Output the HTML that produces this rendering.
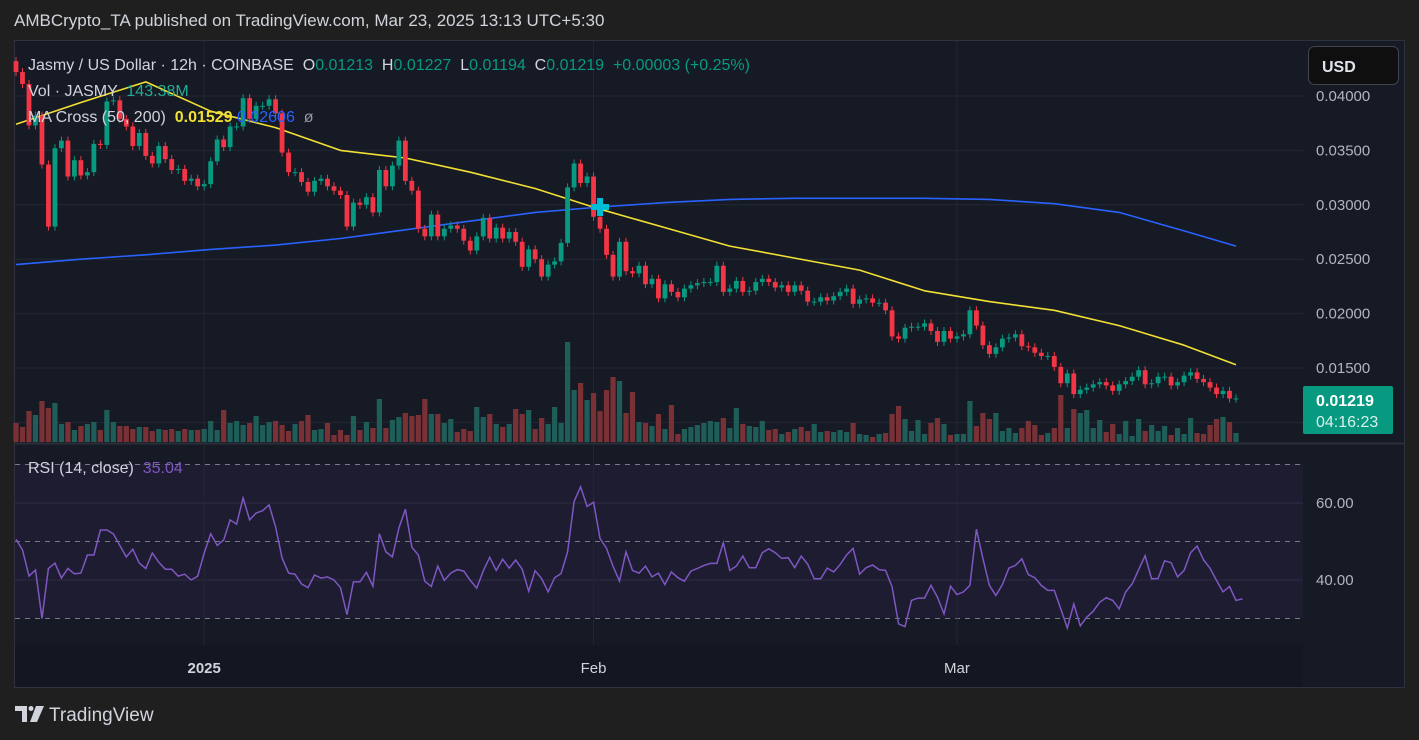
<!DOCTYPE html>
<html><head><meta charset="utf-8">
<style>
body{margin:0;background:#1f1f1f;width:1419px;height:740px;overflow:hidden;font-family:"Liberation Sans",sans-serif;}
#hdr{position:absolute;left:14px;top:11px;color:#d1d4dc;font-size:17px;}
svg{position:absolute;left:0;top:0;}
</style></head><body>
<div id="hdr">AMBCrypto_TA published on TradingView.com, Mar 23, 2025 13:13 UTC+5:30</div>
<svg id="c" width="1419" height="740" xmlns="http://www.w3.org/2000/svg" font-family="Liberation Sans, sans-serif"></svg>
<script>
const firstOpen = 0.0432;
const closes = [0.0422,0.0411,0.0373,0.0382,0.0337,0.0280,0.0352,0.0359,0.0326,0.0341,0.0327,0.0330,0.0356,0.0355,0.0395,0.0396,0.0379,0.0372,0.0354,0.0366,0.0345,0.0338,0.0354,0.0342,0.0332,0.0333,0.0322,0.0324,0.0317,0.0319,0.0340,0.0360,0.0353,0.0372,0.0372,0.0398,0.0379,0.0391,0.0391,0.0397,0.0384,
0.0348,0.0330,0.0330,0.0321,0.0312,0.0322,0.0324,0.0317,0.0313,0.0309,0.0280,0.0302,0.0300,0.0307,0.0293,0.0332,0.0317,0.0336,0.0359,0.0322,0.0313,
0.0278,0.0271,0.0291,0.0271,0.0278,0.0281,0.0278,0.0267,0.0258,0.0271,0.0288,0.0269,0.0279,0.0269,0.0275,0.0266,0.0243,0.0259,0.0250,
0.0234,0.0245,0.0248,0.0265,0.0316,0.0338,0.0320,0.0326,0.0289,0.0278,0.0254,0.0234,0.0266,0.0239,0.0237,0.0244,0.0227,0.0232,0.0214,0.0227,
0.0220,0.0215,0.0223,0.0226,0.0228,0.0229,0.0229,0.0244,0.0220,0.0223,0.0230,0.0220,0.0221,0.0229,0.0232,0.0229,0.0224,0.0226,0.0220,0.0226,
0.0221,0.0211,0.0211,0.0215,0.0212,0.0216,0.0220,
0.0223,0.0209,0.0213,0.0214,0.0210,0.0210,0.0203,0.0179,0.0177,0.0187,0.0188,0.0188,0.0191,0.0184,0.0174,0.0184,0.0177,0.0179,0.0181,0.0203,
0.0189,0.0171,0.0163,0.0169,0.0177,0.0178,0.0181,0.0170,0.0169,0.0164,0.0161,0.0161,0.0151,0.0136,0.0145,0.0126,0.0130,0.0132,0.0135,0.0137,
0.0134,0.0129,0.0135,0.0138,0.0142,0.0148,0.0135,0.0136,0.0142,0.0142,0.0134,0.0137,0.0143,0.0146,0.0140,0.0137,0.0132,0.0126,0.0129,0.0122,0.0122];
const volumes = [19,15,31,27,41,34,39,18,20,12,16,18,20,12,32,20,16,16,13,15,15,11,13,12,13,11,13,12,12,13,21,12,32,19,21,17,19,26,17,20,21,17,11,18,21,27,12,13,19,7,12,7,26,12,20,14,43,14,22,25,29,26,
27,43,28,28,19,23,10,13,11,35,25,28,18,15,18,33,28,32,13,24,18,35,19,100,52,59,42,49,31,52,65,61,29,50,20,19,16,28,13,37,8,13,15,17,19,21,20,24,14,34,18,16,15,21,12,13,8,10,13,15,11,18,10,11,10,12,
10,19,8,7,5,8,9,28,36,23,11,22,8,19,24,18,7,8,8,41,16,29,23,29,11,14,9,14,21,17,7,9,14,47,14,33,29,32,14,22,10,18,8,21,6,23,11,17,11,16,7,14,8,24,9,8,17,23,25,20,9];
const rsi = [50.6,47.8,41,42.6,30,43,44.4,40.5,43,41.6,41.8,46.5,46.5,53,53,52,49,46,48,44.4,43,47,44.6,42.8,42.8,41,41.5,40,41,47,52,49,50.4,55.6,54.5,61.3,55.6,57.4,58,59.5,53.8,45.7,41.8,41.5,39,38,41.3,40.5,40.8,40,38,31,39.5,39.5,42,38.4,52,47.3,46,53.5,58.4,
48.5,46.5,39.7,38.3,43.6,39.9,41.8,42.7,42.3,39.9,37.9,42.3,45.9,42.5,45.4,43.1,45.2,42.8,37.1,42.4,40.4,36.9,40.6,41.7,47.3,60.4,64.2,59.1,60.2,50.8,48.2,43.6,39.7,47.3,42.5,41.8,43.6,40.8,41.8,38.8,42.1,40.6,39.7,42.3,43,43.8,44.3,44.3,49.7,42.5,43.6,46.2,43.2,43.2,47.1,48.1,47.1,45.6,45.8,43.2,46.2,44.1,40.3,40.3,43.1,42.1,44,
46.5,48.2,41.5,43.2,43.9,42.7,42.5,38.2,28.6,27.9,34.7,35.3,35.3,38.6,35.5,31.2,38.4,36.2,36.9,38.6,53.2,45.6,38.6,36,38.8,43.1,43.8,45.5,41.4,40.6,38.6,37.3,37.3,32.5,27.5,33.8,28.1,30.3,31.9,34.2,35.4,34.7,32.5,36.9,39,42.7,46.3,40.3,40.4,45,44.5,40.8,42.5,47.1,48.8,45.2,43.1,39.9,36.9,38.3,34.7,35.1];
const maEvery = 10;
const ma50 = [0.0374,0.0394,0.0413,0.0386,0.0371,0.0350,0.0343,0.0330,0.0315,0.0296,0.0279,0.0262,0.0251,0.0240,0.0221,0.0211,0.0203,0.0189,0.0171,0.0153];
const ma200 = [0.0245,0.0250,0.0254,0.0259,0.0263,0.0269,0.0277,0.0285,0.0293,0.0298,0.0302,0.0305,0.0306,0.0306,0.0306,0.0305,0.0301,0.0293,0.0276,0.0262];
const priceTicks = [0.04,0.035,0.03,0.025,0.02,0.015];
const rsiTicks = [60,40];
const monthLabels = ["2025","Feb","Mar"];
const monthIdx = [29,89,145];
const crossIdx = 90;

const S = document.getElementById('c');
const NS = 'http://www.w3.org/2000/svg';
function mk(tag, attrs, parent){const e=document.createElementNS(NS,tag);for(const k in attrs)e.setAttribute(k,attrs[k]);(parent||S).appendChild(e);return e;}
const n = closes.length;
const X0 = 16, X1 = 1236;
function xs(i){return X0 + i*(X1-X0)/(n-1);}
function yp(v){return 96 + (0.04 - v)/0.005*54.4;}
function yv(v){return 442 - v*1.0;}
function yr(v){return 503 + (60 - v)*3.85;}

let e;
e=mk('rect',{x:14.5,y:40.5,width:1390,height:647,fill:'#161a25',stroke:'#2f3240'});

e=mk('rect',{x:15,y:645,width:1288,height:42,fill:'#131722'});

e=mk('rect',{x:1303,y:41,width:101,height:646,fill:'#161a25'});

mk('line',{x1:15,y1:443.5,x2:1404,y2:443.5,stroke:'#2a2e39','stroke-width':2});
e=mk('rect',{x:15,y:464,width:1288,height:154,fill:'#1f1d33',opacity:0.9});

priceTicks.forEach(t=>{mk('line',{x1:15,y1:yp(t),x2:1303,y2:yp(t),stroke:'#232733'});
 e=mk('text',{x:1316,y:yp(t)+5,fill:'#b2b5be','font-size':15});e.textContent=t.toFixed(5);
 });
mk('line',{x1:15,y1:yp(0.01),x2:1303,y2:yp(0.01),stroke:'#232733'});
rsiTicks.forEach(t=>{mk('line',{x1:15,y1:yr(t),x2:1303,y2:yr(t),stroke:'#2d2b45'});
 e=mk('text',{x:1316,y:yr(t)+5,fill:'#b2b5be','font-size':15});e.textContent=t.toFixed(2);
 });
[70,50,30].forEach(t=>mk('line',{x1:15,y1:yr(t),x2:1303,y2:yr(t),stroke:'#787b86','stroke-dasharray':'5,5'}));
monthIdx.forEach((m,k)=>{mk('line',{x1:xs(m),y1:41,x2:xs(m),y2:645,stroke:'#232733'});
 e=mk('text',{x:xs(m),y:673,fill:'#d1d4dc','font-size':15,'text-anchor':'middle','font-weight':k==0?'bold':'normal'});e.textContent=monthLabels[k];
 });

const gv = mk('g',{});

for(let i=0;i<n && i<volumes.length;i++){
 const o = i==0?firstOpen:closes[i-1];
 const up = closes[i]>=o;
 e=mk('rect',{x:xs(i)-2.6,y:yv(volumes[i]),width:5.2,height:442-yv(volumes[i]),fill:up?'#1f5d59':'#7a3136'},gv);
 
}
function maPath(arr,color,name){
 let d='';arr.forEach((v,k)=>{const i=Math.min(k*maEvery,n-1);d+=(k?'L':'M')+xs(i).toFixed(1)+' '+yp(v).toFixed(1);});
 const p=mk('path',{d:d,fill:'none',stroke:color,'stroke-width':1.6,'stroke-linejoin':'round'});
 
}
maPath(ma200,'#2962ff','ma200-line');
maPath(ma50,'#f2e034','ma50-line');
const gc = mk('g',{});

for(let i=0;i<n;i++){
 const o = i==0?firstOpen:closes[i-1], c=closes[i];
 const up=c>=o, col=up?'#089981':'#f23645';
 const top=yp(Math.max(o,c)), bot=yp(Math.min(o,c));
 mk('line',{x1:xs(i),y1:top-4,x2:xs(i),y2:bot+4,stroke:col,'stroke-width':1},gc);
 e=mk('rect',{x:xs(i)-2.4,y:top,width:4.8,height:Math.max(1,bot-top),fill:col},gc);
 
}
const cx=xs(crossIdx), cy=yp(ma200[9]);
e=mk('path',{d:`M${cx-9} ${cy}H${cx+9}M${cx} ${cy-9}V${cy+9}`,stroke:'#00bcd4','stroke-width':6});

let d='';rsi.forEach((v,i)=>{d+=(i?'L':'M')+xs(i).toFixed(1)+' '+yr(v).toFixed(1);});
e=mk('path',{d:d,fill:'none',stroke:'#7e57c2','stroke-width':1.5});


function txt(x,y,s,col,size,name,weight){const t=mk('text',{x:x,y:y,fill:col,'font-size':size||16,'font-weight':weight||'normal'});t.textContent=s;return t;}
const L1 = mk('text',{x:28,y:70,'font-size':16,fill:'#d1d4dc'});

L1.setAttribute('style','white-space:pre');
[['Jasmy / US Dollar · 12h · COINBASE  ','#d1d4dc'],['O','#d1d4dc'],['0.01213  ','#089981'],['H','#d1d4dc'],['0.01227  ','#089981'],['L','#d1d4dc'],['0.01194  ','#089981'],['C','#d1d4dc'],['0.01219  +0.00003 (+0.25%)','#089981']].forEach(p=>{const t=mk('tspan',{fill:p[1]},L1);t.textContent=p[0];});
const L2 = mk('text',{x:28,y:96,'font-size':16,fill:'#d1d4dc'});

L2.setAttribute('style','white-space:pre');
mk('tspan',{},L2).textContent='Vol · JASMY  ';mk('tspan',{fill:'#22ab94'},L2).textContent='143.38M';
const L3 = mk('text',{x:28,y:122,'font-size':16,fill:'#d1d4dc'});

L3.setAttribute('style','white-space:pre');
mk('tspan',{},L3).textContent='MA Cross (50, 200)  ';mk('tspan',{fill:'#f2e034','font-weight':'bold'},L3).textContent='0.01529 ';mk('tspan',{fill:'#2962ff'},L3).textContent='0.02606  ';mk('tspan',{fill:'#9598a1'},L3).textContent='ø';
const L4 = mk('text',{x:28,y:473,'font-size':16,fill:'#d1d4dc'});

L4.setAttribute('style','white-space:pre');
mk('tspan',{},L4).textContent='RSI (14, close)  ';mk('tspan',{fill:'#7e57c2'},L4).textContent='35.04';

e=mk('rect',{x:1308.5,y:46.5,width:90,height:38,rx:6,fill:'#0f0f0f',stroke:'#434651'});

txt(1322,72,'USD','#e0e3eb',16,'currency-button-label','bold');
e=mk('rect',{x:1303,y:386,width:90,height:48,rx:2,fill:'#089981'});

txt(1316,406,'0.01219','#ffffff',16,'last-price-value','bold');
txt(1316,427,'04:16:23','#d8f0ea',16,'countdown-timer');
const lg=mk('g',{});

mk('path',{d:'M15 706H27V722H22V711H15Z',fill:'#d1d4dc'},lg);
mk('circle',{cx:31,cy:708.5,r:2.5,fill:'#d1d4dc'},lg);
mk('path',{d:'M36 706H44L37 722H30Z',fill:'#d1d4dc'},lg);
const lt=mk('text',{x:49,y:721,'font-size':19,fill:'#d1d4dc'},lg);lt.textContent='TradingView';
</script>
</body></html>
